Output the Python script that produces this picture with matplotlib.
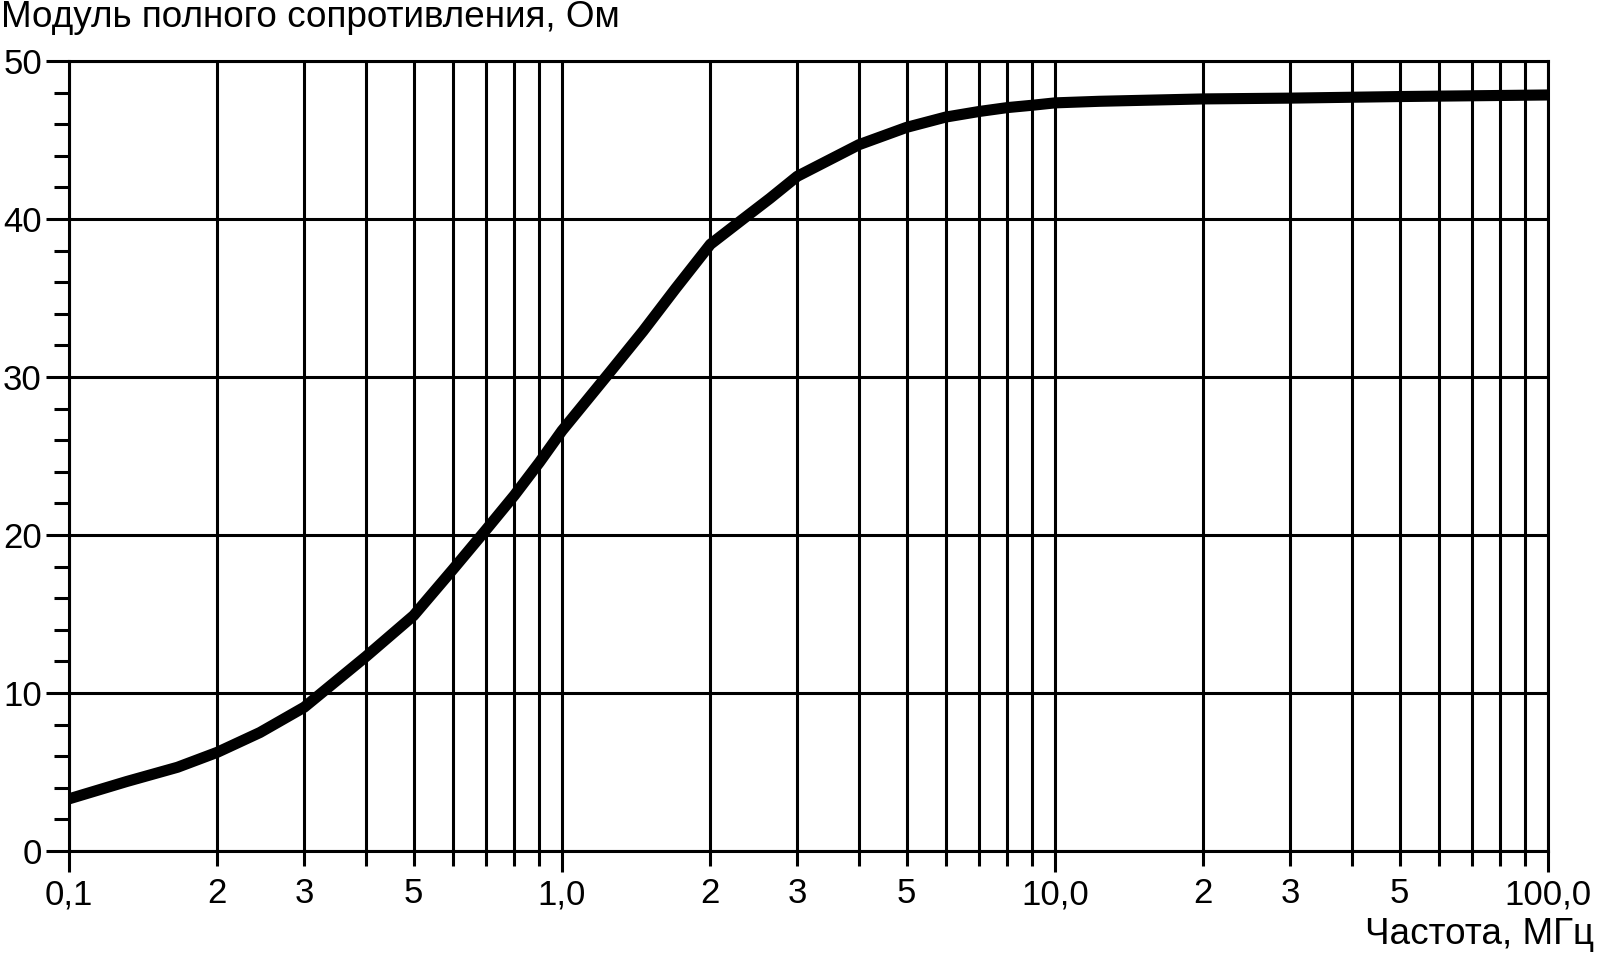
import matplotlib
matplotlib.use("Agg")
import matplotlib.pyplot as plt

plt.rcParams['font.family'] = ['Liberation Sans', 'DejaVu Sans']

# частота, МГц / модуль полного сопротивления, Ом
freq = [0.1, 0.131, 0.166, 0.2, 0.244, 0.3, 0.4, 0.5, 0.6, 0.7, 0.8, 0.9, 1.0,
        1.25, 1.46, 1.7, 2.0, 2.33, 2.64, 3.0, 4.0, 5.0, 6.0, 7.0, 8.0,
        9.0, 10.0, 12.3, 20.0, 30.0, 50.0, 100.0]
z = [3.3, 4.4, 5.3, 6.25, 7.5, 9.1, 12.3, 14.9, 17.8, 20.3, 22.5, 24.6, 26.6,
     30.3, 32.9, 35.6, 38.4, 40.0, 41.3, 42.7, 44.7, 45.8, 46.45, 46.8, 47.05,
     47.2, 47.35, 47.45, 47.6, 47.65, 47.75, 47.85]

major_x = [0.1, 1.0, 10.0, 100.0]
major_x_labels = ['0,1', '1,0', '10,0', '100,0']
minor_x = [0.2, 0.3, 0.4, 0.5, 0.6, 0.7, 0.8, 0.9,
           2, 3, 4, 5, 6, 7, 8, 9,
           20, 30, 40, 50, 60, 70, 80, 90]
minor_x_labels = ['2', '3', '', '5', '', '', '', '',
                  '2', '3', '', '5', '', '', '', '',
                  '2', '3', '', '5', '', '', '', '']
major_y = [0, 10, 20, 30, 40, 50]
minor_y = [2, 4, 6, 8, 12, 14, 16, 18, 22, 24, 26, 28, 32, 34, 36, 38, 42, 44, 46, 48]

fs = 25
fs_title = 26.6
lw = 2.2

fig = plt.figure(figsize=(15.97, 9.56), dpi=100)
ax = fig.add_axes([69 / 1597, 1 - 851 / 956, (1548 - 69) / 1597, (851 - 61) / 956])

ax.plot(freq, z, color='black', linewidth=8, solid_capstyle='butt',
        solid_joinstyle='round', zorder=5)

ax.set_xscale('log')
ax.set_xlim(0.1, 100)
ax.set_ylim(0, 50)

ax.set_xticks(major_x, major_x_labels)
ax.set_xticks(minor_x, minor_x_labels, minor=True)
ax.set_yticks(major_y, [str(v) for v in major_y])
ax.set_yticks(minor_y, minor=True)

ax.tick_params(axis='x', which='major', length=15, width=lw, labelsize=fs, pad=5)
ax.tick_params(axis='x', which='minor', length=11, width=lw, labelsize=fs, pad=8)
ax.tick_params(axis='y', which='major', length=16.5, width=lw, labelsize=fs, pad=3)
ax.tick_params(axis='y', which='minor', length=11, width=lw)

ax.grid(True, which='major', color='black', linewidth=lw)
ax.grid(True, which='minor', axis='x', color='black', linewidth=lw)
for s in ax.spines.values():
    s.set_linewidth(lw)

fig.text(1 / 1597, 1 - 0 / 956, 'Модуль полного сопротивления, Ом',
         fontsize=fs_title, ha='left', va='top')
fig.text(1 - 3 / 1597, 1 - 952 / 956, 'Частота, МГц',
         fontsize=fs_title, ha='right', va='bottom')

fig.savefig('out.png', dpi=100)
